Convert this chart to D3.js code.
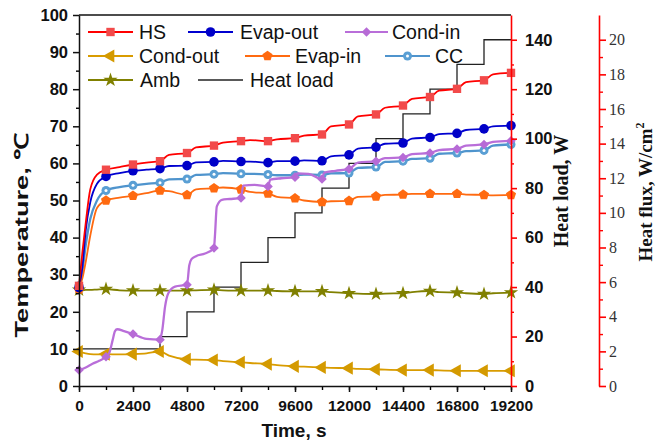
<!DOCTYPE html>
<html>
<head>
<meta charset="utf-8">
<script src="https://cdn.jsdelivr.net/npm/d3@7"></script>
<style>
  body { margin: 0; background: #fff; }
  svg { font-family: Arial, "Liberation Sans", sans-serif; }
</style>
</head>
<body>
<div id="chart"></div>
<script>
// time samples (s) shared by most temperature series
const tLine = [0, 150, 300, 500, 800, 1200, 1800, 2400, 3000, 3600, 4000, 4800, 5200, 6000, 6400, 7200, 7600, 8400, 8800, 9600, 10000, 10800, 11200, 12000, 12400, 13200, 13600, 14400, 14800, 15600, 16000, 16800, 17200, 18000, 18400, 19200];

const hs      = [27, 36, 44, 53, 57, 58.3, 59, 59.7, 60.2, 60.6, 62.3, 62.8, 64.3, 64.8, 65.6, 66.0, 66.3, 66.0, 66.5, 66.8, 67.5, 67.8, 70.0, 70.5, 72.7, 73.2, 75.0, 75.6, 77.4, 77.9, 79.6, 80.1, 81.9, 82.4, 84.0, 84.4];
const evapOut = [26.5, 32, 42, 49.5, 54.5, 56.5, 57.4, 58.0, 58.3, 58.6, 59.3, 59.4, 60.3, 60.4, 60.7, 60.5, 60.5, 60.2, 60.6, 60.6, 60.8, 60.7, 61.9, 62.3, 64.0, 64.4, 65.3, 65.5, 66.7, 67.0, 67.9, 68.1, 69.0, 69.3, 70.0, 70.2];
const cc      = [27, 31, 38, 45, 50, 52.7, 53.6, 54.1, 54.5, 54.8, 55.7, 55.8, 56.9, 57.1, 57.4, 57.2, 57.2, 57.0, 56.8, 56.8, 57.0, 56.9, 57.3, 57.4, 58.8, 59.0, 60.4, 60.6, 61.2, 61.4, 62.6, 62.8, 63.3, 63.5, 64.8, 65.1];
const evapIn  = [26, 29, 33.5, 40.5, 48, 50, 50.8, 51.3, 52, 52.7, 52.5, 51.5, 53.0, 53.3, 53.5, 53.0, 52.3, 51.9, 51.0, 50.6, 50.0, 49.6, 49.8, 49.9, 51.0, 51.1, 51.5, 51.6, 51.8, 51.8, 51.8, 51.8, 51.6, 51.5, 51.4, 51.5];
const condOut = [9.3, 9.0, 8.8, 8.6, 8.5, 8.6, 8.5, 8.6, 8.8, 9.3, 8.2, 7.2, 7.1, 7.0, 6.7, 6.4, 6.2, 5.9, 5.6, 5.3, 5.2, 5.0, 4.9, 4.8, 4.6, 4.5, 4.4, 4.3, 4.3, 4.3, 4.2, 4.1, 4.1, 4.1, 4.1, 4.1];
const amb     = [25.9, 25.8, 25.9, 25.9, 26.0, 26.1, 25.8, 25.7, 25.7, 25.7, 25.7, 25.7, 25.8, 25.9, 25.8, 25.7, 25.7, 25.7, 25.6, 25.5, 25.5, 25.5, 25.3, 25.0, 24.9, 24.8, 24.9, 25.0, 25.3, 25.6, 25.3, 25.2, 25.0, 24.8, 25.0, 25.2];

// Cond-in has its own jumps
const tCondIn = [0, 300, 600, 900, 1200, 1350, 1500, 1600, 1700, 2000, 2400, 3000, 3600, 3650, 3700, 3825, 3970, 4270, 4800, 4900, 5000, 5200, 5600, 6000, 6040, 6125, 6350, 6700, 7200, 7300, 7800, 8400, 8500, 9000, 9600, 9700, 10200, 10800, 10900, 11400, 12000, 12400, 13200, 13600, 14400, 14800, 15600, 16000, 16800, 17200, 18000, 18400, 19200];
const condIn  = [4.3, 5.0, 6.0, 6.8, 7.9, 9.0, 12.5, 14.8, 15.3, 14.8, 14.0, 12.7, 12.5, 13.5, 15.0, 21.4, 25.0, 26.8, 27.3, 32.5, 34.2, 35.0, 35.7, 37.2, 40.3, 48.4, 50.2, 50.4, 50.7, 54.0, 54.2, 53.8, 55.6, 56.0, 56.3, 57.3, 57.2, 55.8, 57.5, 58.0, 58.5, 60.2, 60.6, 61.4, 61.6, 62.5, 62.8, 63.6, 63.9, 64.8, 65.1, 65.8, 66.1];

// heat load steps (W)
const loadTimes = [0, 3600, 4800, 6000, 7200, 8400, 9600, 10800, 12000, 13200, 14400, 15600, 16800, 18000, 19200];
const loadW     = [15, 20, 30, 40, 50, 60, 70, 80, 90, 100, 110, 120, 130, 140, 140];

const xTicks = [0, 2400, 4800, 7200, 9600, 12000, 14400, 16800, 19200];

const series = [
  { name: "HS",       t: tLine,   v: hs,      line: "#ff0000", fill: "#f24a4a", shape: "square" },
  { name: "Evap-out", t: tLine,   v: evapOut, line: "#0000d0", fill: "#0000c8", shape: "circle" },
  { name: "Cond-in",  t: tCondIn, v: condIn,  line: "#b96ed9", fill: "#b76bd6", shape: "diamond" },
  { name: "Cond-out", t: tLine,   v: condOut, line: "#d99c00", fill: "#d49a00", shape: "triangle" },
  { name: "Evap-in",  t: tLine,   v: evapIn,  line: "#ff6a10", fill: "#ff6a10", shape: "pentagon" },
  { name: "CC",       t: tLine,   v: cc,      line: "#4f94cd", fill: "#5a9fd4", shape: "cc" },
  { name: "Amb",      t: tLine,   v: amb,     line: "#808000", fill: "#808000", shape: "star" }
];

const width = 667, height = 443;
const svg = d3.select("#chart").append("svg")
  .attr("width", width).attr("height", height);

const x = d3.scaleLinear().domain([0, 19200]).range([79, 511]);
const y = d3.scaleLinear().domain([0, 100]).range([386, 15]);
const yLoad = d3.scaleLinear().domain([0, 150]).range([386, 15]);
const yFlux = d3.scaleLinear().domain([0, 150 / 7]).range([386, 15]);

// marker paths
function pentagon(r) {
  const p = d3.path();
  for (let i = 0; i < 5; i++) {
    const a = -Math.PI / 2 + i * 2 * Math.PI / 5;
    i ? p.lineTo(r * Math.cos(a), r * Math.sin(a)) : p.moveTo(r * Math.cos(a), r * Math.sin(a));
  }
  p.closePath();
  return p.toString();
}
function drawMarker(g, s, cx, cy) {
  const m = g.append("g").attr("transform", `translate(${cx},${cy})`);
  if (s.shape === "square") m.append("path").attr("d", d3.symbol(d3.symbolSquare, 70)()).attr("fill", s.fill);
  else if (s.shape === "circle") m.append("circle").attr("r", 4.8).attr("fill", s.fill);
  else if (s.shape === "diamond") m.append("path").attr("d", d3.symbol(d3.symbolSquare, 46)()).attr("transform", "rotate(45)").attr("fill", s.fill);
  else if (s.shape === "triangle") m.append("path").attr("d", d3.symbol(d3.symbolTriangle, 75)()).attr("transform", "rotate(-90)").attr("fill", s.fill);
  else if (s.shape === "pentagon") m.append("path").attr("d", pentagon(5.3)).attr("fill", s.fill);
  else if (s.shape === "star") m.append("path").attr("d", d3.symbol(d3.symbolStar, 64)()).attr("fill", s.fill);
  else if (s.shape === "cc") {
    m.append("circle").attr("r", 4.5).attr("fill", s.fill);
    m.append("circle").attr("r", 1.5).attr("fill", "#fff");
  }
}

// heat load step line
const loadLine = d3.line().curve(d3.curveStepAfter)
  .x((d, i) => x(loadTimes[i])).y(d => yLoad(d));
svg.append("path").datum(loadW)
  .attr("d", loadLine)
  .attr("fill", "none").attr("stroke", "#222").attr("stroke-width", 1.3);

// temperature lines + markers
const line = d3.line().curve(d3.curveMonotoneX);
const plot = svg.append("g");
series.slice().reverse().forEach(s => {
  const pts = s.t.map((t, i) => [x(t), y(s.v[i])]);
  plot.append("path").datum(pts).attr("d", line)
    .attr("fill", "none").attr("stroke", s.line)
    .attr("stroke-width", s.name === "CC" || s.name === "Cond-in" ? 2.3 : 1.8);
  s.t.forEach((t, i) => {
    if (t % 1200 === 0) drawMarker(plot, s, x(t), y(s.v[i]));
  });
});

// axes
const boldTick = size => g => g.selectAll("text").attr("font-size", size).attr("font-weight", "bold").attr("fill", "#111").attr("font-family", "Arial, sans-serif");

svg.append("g").attr("transform", "translate(0,386)")
  .call(d3.axisBottom(x).tickValues(d3.range(0, 19201, 1200)).tickSize(4).tickFormat(""))
  .call(g => g.select(".domain").remove())
  .call(g => g.selectAll("line").attr("stroke-width", 1.4));
svg.append("g").attr("transform", "translate(0,386)")
  .call(d3.axisBottom(x).tickValues(xTicks).tickSize(6).tickSizeOuter(0).tickPadding(8).tickFormat(d3.format("d")))
  .call(boldTick(15.5))
  .call(g => g.selectAll("line, .domain").attr("stroke", "#111").attr("stroke-width", 1.5));

svg.append("g").attr("transform", "translate(79,0)")
  .call(d3.axisLeft(y).tickValues(d3.range(5, 100, 10)).tickSize(3).tickFormat(""))
  .call(g => g.select(".domain").remove())
  .call(g => g.selectAll("line").attr("stroke-width", 1.4));
svg.append("g").attr("transform", "translate(79,0)")
  .call(d3.axisLeft(y).tickValues(d3.range(0, 101, 10)).tickSize(6).tickSizeOuter(0).tickPadding(5))
  .call(boldTick(16.5))
  .call(g => g.selectAll("line, .domain").attr("stroke", "#111").attr("stroke-width", 1.5));

// top frame
svg.append("line").attr("x1", 79).attr("x2", 511).attr("y1", 15).attr("y2", 15)
  .attr("stroke", "#111").attr("stroke-width", 1.5);

// heat load axis (red)
svg.append("g").attr("transform", "translate(511,0)")
  .call(d3.axisRight(yLoad).tickValues(d3.range(10, 150, 20)).tickSize(3).tickFormat(""))
  .call(g => g.select(".domain").remove())
  .call(g => g.selectAll("line").attr("stroke", "#ff0000").attr("stroke-width", 1.4));
svg.append("g").attr("transform", "translate(511,0)")
  .call(d3.axisRight(yLoad).tickValues(d3.range(0, 141, 20)).tickSize(6).tickSizeOuter(0).tickPadding(8))
  .call(boldTick(16.5))
  .call(g => g.selectAll("line, .domain").attr("stroke", "#ff0000").attr("stroke-width", 1.6));

// heat flux axis (red, serif labels)
svg.append("g").attr("transform", "translate(599,0)")
  .call(d3.axisRight(yFlux).tickValues(d3.range(1, 21, 2)).tickSize(4).tickFormat(""))
  .call(g => g.select(".domain").remove())
  .call(g => g.selectAll("line").attr("stroke", "#ff0000").attr("stroke-width", 1.4));
svg.append("g").attr("transform", "translate(599,0)")
  .call(d3.axisRight(yFlux).tickValues(d3.range(0, 21, 2)).tickSize(7).tickSizeOuter(0).tickPadding(3))
  .call(g => g.selectAll("text").attr("font-size", 16).attr("fill", "#333").attr("font-family", "'Liberation Serif', 'Times New Roman', serif"))
  .call(g => g.selectAll("line, .domain").attr("stroke", "#ff0000").attr("stroke-width", 1.6));

// axis titles
svg.append("text").attr("transform", "translate(28,235) rotate(-90)")
  .attr("text-anchor", "middle").attr("font-size", 19).attr("font-weight", "bold").attr("fill", "#111")
  .attr("textLength", 205).attr("lengthAdjust", "spacingAndGlyphs")
  .text("Temperature, ℃");
svg.append("text").attr("x", 294).attr("y", 437)
  .attr("text-anchor", "middle").attr("font-size", 19).attr("font-weight", "bold").attr("fill", "#111")
  .text("Time, s");
svg.append("text").attr("transform", "translate(568,191) rotate(-90)")
  .attr("text-anchor", "middle").attr("font-size", 20).attr("font-weight", "bold").attr("fill", "#111")
  .attr("font-family", "'Liberation Serif', 'Times New Roman', serif")
  .text("Heat load, W");
const fluxTitle = svg.append("text").attr("transform", "translate(652,192) rotate(-90)")
  .attr("text-anchor", "middle").attr("font-size", 19).attr("font-weight", "bold").attr("fill", "#111")
  .attr("font-family", "'Liberation Serif', 'Times New Roman', serif");
fluxTitle.append("tspan").text("Heat flux, W/cm");
fluxTitle.append("tspan").attr("font-size", 12).attr("dy", -8).text("2");

// legend
const legendPos = [
  { name: "HS",       x1: 88,  x2: 133, tx: 139, y: 32 },
  { name: "Evap-out", x1: 188, x2: 233, tx: 240, y: 32 },
  { name: "Cond-in",  x1: 345, x2: 388, tx: 392, y: 32 },
  { name: "Cond-out", x1: 88,  x2: 133, tx: 139, y: 56 },
  { name: "Evap-in",  x1: 245, x2: 290, tx: 295, y: 56 },
  { name: "CC",       x1: 385, x2: 430, tx: 435, y: 56 },
  { name: "Amb",      x1: 88,  x2: 133, tx: 140, y: 80 },
  { name: "Heat load", x1: 198, x2: 243, tx: 250, y: 80 }
];
const leg = svg.append("g");
legendPos.forEach(p => {
  const s = series.find(d => d.name === p.name);
  leg.append("line").attr("x1", p.x1).attr("x2", p.x2).attr("y1", p.y).attr("y2", p.y)
    .attr("stroke", s ? s.line : "#222").attr("stroke-width", s ? 1.8 : 1.3);
  if (s) drawMarker(leg, s, (p.x1 + p.x2) / 2, p.y);
  leg.append("text").attr("x", p.tx).attr("y", p.y).attr("dy", "0.36em")
    .attr("font-size", 19.5).attr("fill", "#111").text(p.name);
});
</script>
</body>
</html>
